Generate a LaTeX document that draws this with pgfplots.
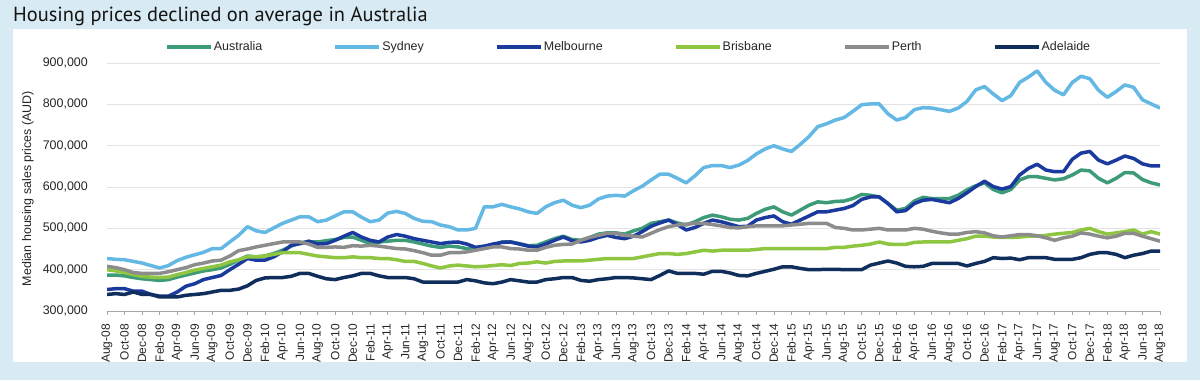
\documentclass[border=0pt]{standalone}
\usepackage{fontspec}
\setmainfont{Liberation Sans}
\newfontfamily\titlefont{PT Sans}
\usepackage{pgfplots}
\usepackage{pgfplotstable}
\pgfplotsset{compat=1.18}
\definecolor{bgblue}{HTML}{D8EAF3}
\definecolor{cAus}{HTML}{3E9B78}
\definecolor{cSyd}{HTML}{64B8E4}
\definecolor{cMel}{HTML}{1B3A9E}
\definecolor{cBri}{HTML}{8EC641}
\definecolor{cPer}{HTML}{8C8C8C}
\definecolor{cAde}{HTML}{0F2E5B}
\definecolor{txt}{HTML}{262626}
\pgfplotstableread{
m aus syd mel bri per ade
0 387 427 352 400 408 340
1 387 425 354 397 405 342
2 385 424 354 393 400 340
3 381 420 348 388 393 346
4 378 416 348 384 391 340
5 376 410 340 382 391 340
6 374 404 336 381 391 334
7 376 410 336 382 395 334
8 382 422 346 388 400 334
9 387 430 360 393 405 338
10 392 436 366 399 412 340
11 397 442 376 403 416 342
12 400 451 381 407 421 346
13 404 451 386 411 423 350
14 413 467 400 419 433 350
15 423 483 413 424 446 353
16 433 504 427 431 450 361
17 431 494 423 431 455 374
18 433 490 423 433 459 380
19 439 501 431 437 463 381
20 447 512 443 441 467 381
21 457 520 459 441 467 384
22 465 528 463 441 467 391
23 467 528 469 437 462 391
24 467 516 462 433 454 384
25 470 520 463 431 454 378
26 473 530 471 429 455 376
27 478 540 481 429 454 381
28 479 540 490 431 458 385
29 471 527 479 429 457 391
30 463 516 471 429 459 391
31 467 520 467 427 457 385
32 469 537 479 427 454 381
33 471 541 485 424 451 381
34 471 536 481 420 450 381
35 467 524 475 420 446 378
36 462 517 471 415 441 370
37 457 516 467 409 435 370
38 454 508 463 404 435 370
39 457 504 466 409 441 370
40 455 496 467 411 441 370
41 451 496 462 409 443 376
42 450 500 454 407 447 373
43 455 552 457 408 451 368
44 458 552 462 410 455 366
45 467 558 466 412 455 370
46 467 552 467 410 451 376
47 463 547 462 415 450 373
48 458 540 457 416 447 370
49 459 536 455 419 447 370
50 467 552 462 416 454 376
51 475 562 471 420 459 378
52 481 568 479 421 461 381
53 473 556 470 421 462 381
54 471 550 467 421 471 374
55 478 556 471 423 478 372
56 486 571 478 425 483 376
57 489 578 483 427 488 378
58 489 580 478 427 488 381
59 486 578 475 427 483 381
60 494 591 481 427 481 380
61 500 602 492 431 479 378
62 512 617 505 435 488 376
63 516 631 513 439 497 386
64 520 631 520 439 504 397
65 513 621 509 437 508 391
66 508 610 496 439 510 391
67 516 627 502 443 512 391
68 526 647 512 447 512 389
69 532 652 520 445 509 396
70 528 652 516 447 506 396
71 522 647 510 447 502 392
72 520 653 504 447 501 386
73 524 664 505 447 504 385
74 536 680 520 449 506 391
75 546 692 526 451 506 396
76 552 700 530 451 506 401
77 540 692 516 451 506 407
78 532 686 510 451 508 407
79 544 703 520 451 510 403
80 556 722 530 451 512 400
81 564 746 540 451 512 400
82 562 753 540 451 512 401
83 565 762 544 454 502 401
84 566 768 548 454 500 400
85 572 783 555 457 496 400
86 582 799 570 459 496 400
87 580 801 576 462 498 411
88 576 801 576 467 500 416
89 560 777 560 462 496 421
90 544 762 540 461 496 416
91 548 768 543 461 496 408
92 566 787 560 466 500 407
93 575 792 568 467 498 408
94 572 791 570 467 493 415
95 572 787 566 467 489 415
96 572 783 562 467 486 415
97 580 791 572 471 486 415
98 593 807 586 475 490 409
99 603 835 601 481 492 415
100 610 843 614 481 489 420
101 594 825 601 479 482 429
102 586 809 595 478 479 427
103 594 821 601 478 482 428
104 617 853 629 479 485 424
105 625 866 645 481 485 429
106 625 881 655 481 482 429
107 621 853 641 483 477 429
108 617 834 637 486 471 425
109 620 823 637 488 477 425
110 629 853 667 490 481 425
111 641 868 682 496 489 429
112 639 862 686 500 486 437
113 621 834 665 492 481 441
114 610 817 656 486 477 441
115 621 831 665 489 481 437
116 635 847 675 492 488 429
117 634 841 669 496 488 435
118 618 811 656 486 481 439
119 610 801 651 492 475 445
120 605 791 651 486 469 445
}\housing
\begin{document}
\begin{tikzpicture}[x=1bp,y=1bp]
\fill[bgblue] (0,0) rectangle (1200,380);
\fill[white] (13,18) rectangle (1187,351);
\node[anchor=base west, inner sep=0pt, text=black!92, font=\titlefont\fontsize{20.5}{24}\selectfont] at (13,359) {Housing prices declined on average in Australia};
\begin{axis}[
  at={(107bp,69bp)}, anchor=south west,
  scale only axis, width=1053bp, height=248bp,
  xmin=0, xmax=120, ymin=300, ymax=900,
  axis x line*=bottom, axis y line*=left,
  y axis line style={draw=none},
  x axis line style={draw=gray!70, line width=0.8bp},
  ytick={300,400,...,900},
  ytick style={draw=none},
  xtick={0,2,...,120},
  xticklabels={Aug-08,Oct-08,Dec-08,Feb-09,Apr-09,Jun-09,Aug-09,Oct-09,Dec-09,Feb-10,Apr-10,Jun-10,Aug-10,Oct-10,Dec-10,Feb-11,Apr-11,Jun-11,Aug-11,Oct-11,Dec-11,Feb-12,Apr-12,Jun-12,Aug-12,Oct-12,Dec-12,Feb-13,Apr-13,Jun-13,Aug-13,Oct-13,Dec-13,Feb-14,Apr-14,Jun-14,Aug-14,Oct-14,Dec-14,Feb-15,Apr-15,Jun-15,Aug-15,Oct-15,Dec-15,Feb-16,Apr-16,Jun-16,Aug-16,Oct-16,Dec-16,Feb-17,Apr-17,Jun-17,Aug-17,Oct-17,Dec-17,Feb-18,Apr-18,Jun-18,Aug-18},
  tick align=outside,
  major tick length=4bp,
  x tick style={draw=gray!70, line width=0.8bp},
  x tick label style={rotate=90, anchor=east, inner sep=0pt, text=txt, font=\fontsize{12}{14}\selectfont},
  xticklabel shift=9bp,
  y tick label style={anchor=east, inner sep=0pt, text=txt, font=\fontsize{12.5}{14}\selectfont},
  yticklabel shift=15bp,
  yticklabel={\pgfmathprintnumber[fixed,assume math mode=true]{\tick},000},
  ymajorgrids,
  major grid style={draw=gray!22, line width=1bp},
  ylabel={Median housing sales prices (AUD)},
  ylabel style={at={(axis description cs:-0.075,0.494)}, anchor=center, text=txt, font=\fontsize{12.5}{14}\selectfont},
  legend columns=6,
  legend style={at={(axis description cs:0.4948,1.0645)}, anchor=center, draw=none, fill=none, inner sep=0pt,
    font=\fontsize{12.5}{14}\selectfont, text=txt, nodes={inner sep=1bp},
    /tikz/every even column/.append style={column sep=70bp}},
  legend image code/.code={\draw[#1, line width=4bp] (0bp,0bp) -- (44bp,0bp);},
  every axis plot/.append style={line width=3.5bp, line join=round, no markers},
]
\addplot[cAus] table[x=m, y=aus] {\housing}; \addlegendentry{Australia}
\addplot[cSyd] table[x=m, y=syd] {\housing}; \addlegendentry{Sydney}
\addplot[cMel] table[x=m, y=mel] {\housing}; \addlegendentry{Melbourne}
\addplot[cBri] table[x=m, y=bri] {\housing}; \addlegendentry{Brisbane}
\addplot[cPer] table[x=m, y=per] {\housing}; \addlegendentry{Perth}
\addplot[cAde] table[x=m, y=ade] {\housing}; \addlegendentry{Adelaide}
\end{axis}
\pgfresetboundingbox
\useasboundingbox (0,0) rectangle (1200,380);
\end{tikzpicture}
\end{document}
